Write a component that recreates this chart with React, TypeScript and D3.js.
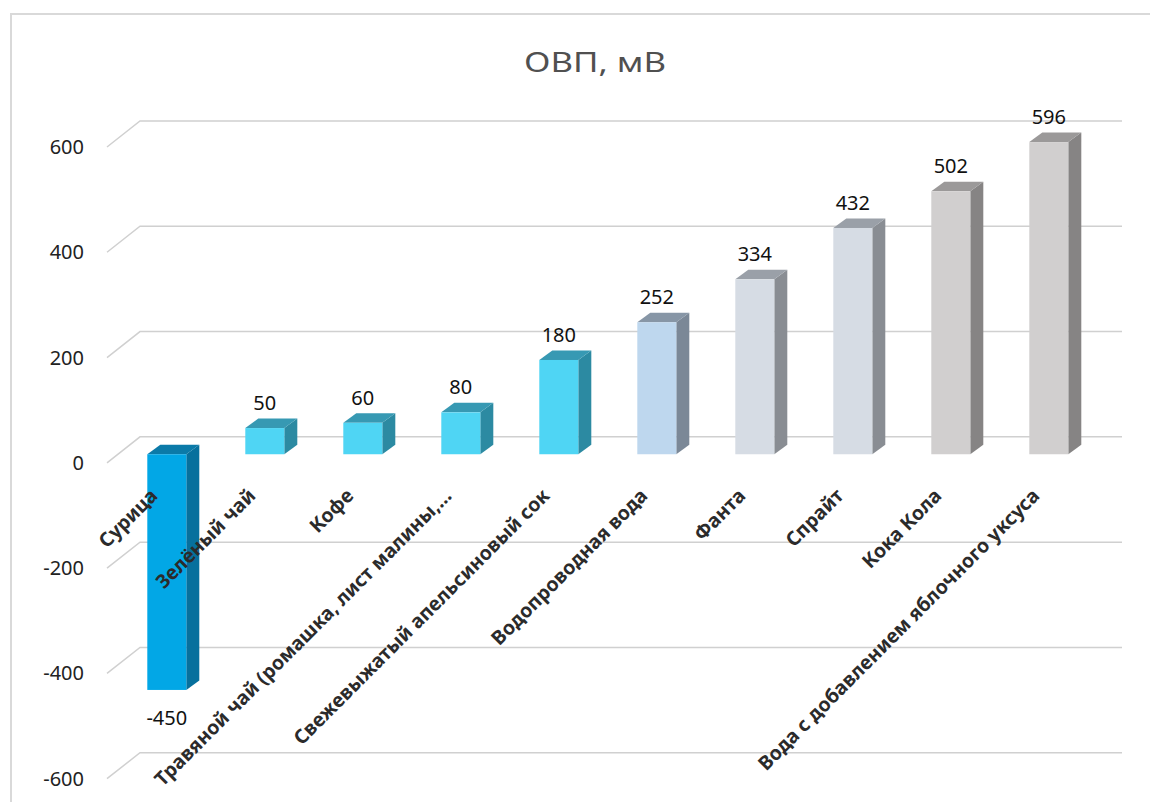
import React from 'react';
import { scaleLinear, scalePoint } from 'd3';

const categories = [
  'Сурица',
  'Зелёный чай',
  'Кофе',
  'Травяной чай (ромашка, лист малины,…',
  'Свежевыжатый апельсиновый сок',
  'Водопроводная вода',
  'Фанта',
  'Спрайт',
  'Кока Кола',
  'Вода с добавлением яблочного уксуса',
];
const values = [-450, 50, 60, 80, 180, 252, 334, 432, 502, 596];
const yTicks = [-600, -400, -200, 0, 200, 400, 600];

// front / side / top colours per bar
const palette = [
  ['#02a7e6', '#07709d', '#0b7aa8'],
  ['#4fd5f4', '#2c8aa2', '#3799b3'],
  ['#4fd5f4', '#2c8aa2', '#3799b3'],
  ['#4fd5f4', '#2c8aa2', '#3799b3'],
  ['#4fd5f4', '#2c8aa2', '#3799b3'],
  ['#bed7ee', '#7b8897', '#8796a6'],
  ['#d6dce4', '#898d93', '#9aa0a8'],
  ['#d6dce4', '#898d93', '#9aa0a8'],
  ['#d1cfcf', '#868484', '#9b9999'],
  ['#d1cfcf', '#868484', '#9b9999'],
];

const W = 1150;
const H = 802;
const font = '"Noto Sans", "Open Sans", sans-serif';

export default function App() {
  // back wall
  const yBack = scaleLinear().domain([-600, 600]).range([752.7, 121]);
  // front face of the bars
  const yFront = scaleLinear().domain([-600, 600]).range([768.5, 140]);
  const x = scalePoint<string>().domain(categories).range([166.8, 1048.8]);

  const barW = 39;
  const dx = 13;
  const dy = -9.5;
  const wallDx = 33;
  const wallDy = 26;
  const gridX0 = 140;
  const gridX1 = 1122;

  return (
    <svg
      width={W}
      height={H}
      style={{ position: 'fixed', top: 0, left: 0, background: '#fff' }}
    >
      <rect x={11} y={14} width={W} height={H} fill="#fff" stroke="#d9d9d9" strokeWidth={2} />
      <text
        x={595}
        y={72}
        textAnchor="middle"
        fontFamily={font}
        fontSize={27}
        textLength={142}
        lengthAdjust="spacingAndGlyphs"
        fill="#505050"
      >
        ОВП, мВ
      </text>

      {yTicks.map((t) => (
        <g key={t}>
          <path
            d={`M${gridX0 - wallDx},${yBack(t) + wallDy}L${gridX0},${yBack(t)}H${gridX1}`}
            fill="none"
            stroke="#d0d0d0"
            strokeWidth={1.5}
          />
          <text
            x={84}
            y={yBack(t) + wallDy}
            dy="0.35em"
            textAnchor="end"
            fontFamily={font}
            fontSize={20}
            fill="#222"
          >
            {t}
          </text>
        </g>
      ))}

      {categories.map((c, i) => {
        const v = values[i];
        const [front, side, top] = palette[i];
        const x0 = x(c)! - barW / 2;
        const x1 = x0 + barW;
        const yT = yFront(Math.max(v, 0));
        const yB = yFront(Math.min(v, 0));
        return (
          <g key={c}>
            <polygon
              points={`${x1},${yT} ${x1 + dx},${yT + dy} ${x1 + dx},${yB + dy} ${x1},${yB}`}
              fill={side}
            />
            <polygon
              points={`${x0},${yT} ${x0 + dx},${yT + dy} ${x1 + dx},${yT + dy} ${x1},${yT}`}
              fill={top}
            />
            <rect x={x0} y={yT} width={barW} height={yB - yT} fill={front} />
          </g>
        );
      })}

      {categories.map((c, i) => {
        const v = values[i];
        const cx = x(c)!;
        const ly = v >= 0 ? yFront(v) - 18 : yFront(v) + 35;
        return (
          <text
            key={c}
            x={cx}
            y={ly}
            textAnchor="middle"
            fontFamily={font}
            fontSize={20}
            fill="#111"
          >
            {v}
          </text>
        );
      })}

      {categories.map((c) => {
        const ax = x(c)! - 8;
        const ay = 497;
        return (
          <text
            key={c}
            transform={`translate(${ax},${ay}) rotate(-45)`}
            textAnchor="end"
            fontFamily={font}
            fontSize={19.5}
            fontWeight="bold"
            fill="#2b2b2b"
          >
            {c}
          </text>
        );
      })}
    </svg>
  );
}
